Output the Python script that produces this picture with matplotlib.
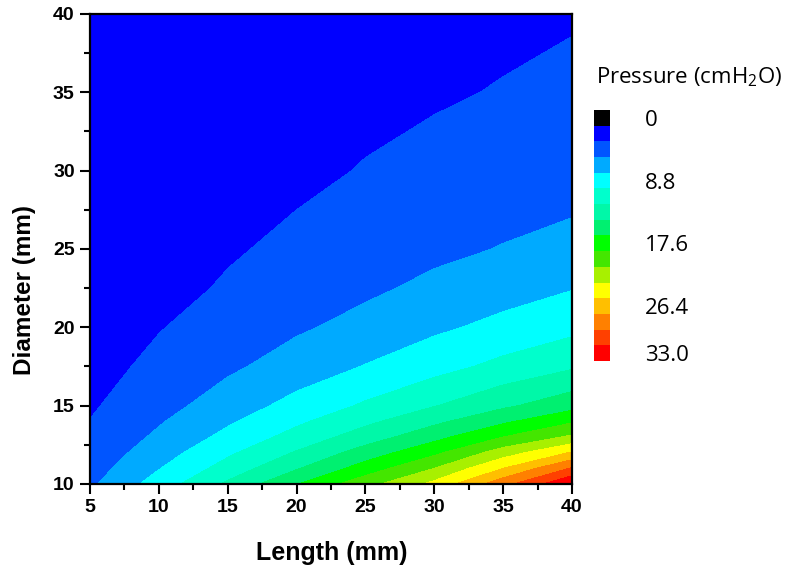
import numpy as np
import matplotlib
matplotlib.use("Agg")
import matplotlib.pyplot as plt
from matplotlib.colors import ListedColormap

# grid
lengths = [5, 10, 15, 20, 25, 30, 35, 40]
diameters = [10, 11, 12, 13, 14, 15, 17.5, 20, 22.5, 25, 30, 35, 40]
# pressure (cmH2O), one row per diameter, one column per length
pressure = [
    [4.0, 7.6, 11.4, 15.3, 19.0, 22.6, 27.8, 33.0],
    [3.4, 6.5, 9.7, 13.0, 16.4, 19.8, 24.2, 28.8],
    [2.9, 5.6, 8.4, 11.2, 14.2, 17.1, 20.9, 24.4],
    [2.55, 4.8, 7.2, 9.6, 12.1, 14.7, 17.6, 20.2],
    [2.25, 4.2, 6.3, 8.4, 10.5, 12.7, 15.0, 17.3],
    [1.95, 3.6, 5.5, 7.3, 9.1, 10.9, 12.8, 14.6],
    [1.45, 2.7, 4.0, 5.4, 6.7, 8.0, 9.4, 10.7],
    [1.1, 2.1, 3.1, 4.1, 5.1, 6.2, 7.2, 8.2],
    [0.85, 1.6, 2.4, 3.2, 4.0, 4.9, 5.7, 6.5],
    [0.7, 1.3, 2.0, 2.6, 3.3, 3.9, 4.5, 5.0],
    [0.5, 0.9, 1.4, 1.8, 2.3, 2.7, 3.1, 3.5],
    [0.35, 0.7, 1.0, 1.3, 1.7, 2.0, 2.3, 2.7],
    [0.3, 0.5, 0.8, 1.0, 1.3, 1.5, 1.8, 2.0],
]
levels = [0, 2.2, 4.4, 6.6, 8.8, 11.0, 13.2, 15.4, 17.6, 19.8,
          22.0, 24.2, 26.4, 28.6, 30.8, 33.0]
level_colors = ['#000000', '#0000ff', '#0055ff', '#00aaff', '#00ffff',
                '#00ffcc', '#00f8a8', '#00f070', '#00ff00', '#44e600',
                '#a8f000', '#ffff00', '#ffbf00', '#ff8000', '#ff4000',
                '#ff0000']
cbar_ticks = [0, 8.8, 17.6, 26.4, 33.0]
cbar_labels = ['0', '8.8', '17.6', '26.4', '33.0']

plt.rcParams['font.family'] = ['Liberation Sans', 'DejaVu Sans']

fig = plt.figure(figsize=(8, 5.75), dpi=100)
ax = fig.add_axes([0.1125, 0.1583, 0.6025, 0.8174])

L, D = np.meshgrid(lengths, diameters)
ax.contourf(L, D, np.array(pressure), levels=levels,
            colors=level_colors[1:], extend='neither')

ax.set_xlim(5, 40)
ax.set_ylim(10, 40)
ax.set_xticks(np.arange(5, 41, 5))
ax.set_yticks(np.arange(10, 41, 5))
ax.set_xticks(np.arange(7.5, 40, 5), minor=True)
ax.set_yticks(np.arange(12.5, 40, 5), minor=True)
ax.tick_params(which='major', direction='out', length=7, width=1.5,
               labelsize=14, pad=4)
ax.tick_params(which='minor', direction='out', length=4, width=1.5)
for lab in ax.get_xticklabels() + ax.get_yticklabels():
    lab.set_fontweight('bold')
for sp in ax.spines.values():
    sp.set_linewidth(1.6)

ax.set_xlabel('Length (mm)', fontsize=18, fontweight='bold')
ax.set_ylabel('Diameter (mm)', fontsize=17.5, fontweight='bold')
ax.xaxis.set_label_coords(0.502, -0.122)
ax.yaxis.set_label_coords(-0.112, 0.413)

# colour key: one block per level
cax = fig.add_axes([0.7425, 0.3722, 0.02, 0.4365])
cmap = ListedColormap(level_colors)
cax.imshow(np.arange(len(levels)).reshape(-1, 1), cmap=cmap, aspect='auto',
           interpolation='nearest')
cax.set_xticks([])
cax.set_yticks([levels.index(t) for t in cbar_ticks])
cax.set_yticklabels(cbar_labels, family=['Open Sans', 'DejaVu Sans'])
cax.yaxis.tick_right()
cax.tick_params(axis='y', length=0, pad=25, labelsize=16)
for sp in cax.spines.values():
    sp.set_visible(False)

fig.text(0.745, 0.865, r'Pressure (cmH$_\mathregular{2}$O)', fontsize=16,
         family=['Open Sans', 'DejaVu Sans'], va='center', ha='left')

fig.savefig('out.png', dpi=100)
